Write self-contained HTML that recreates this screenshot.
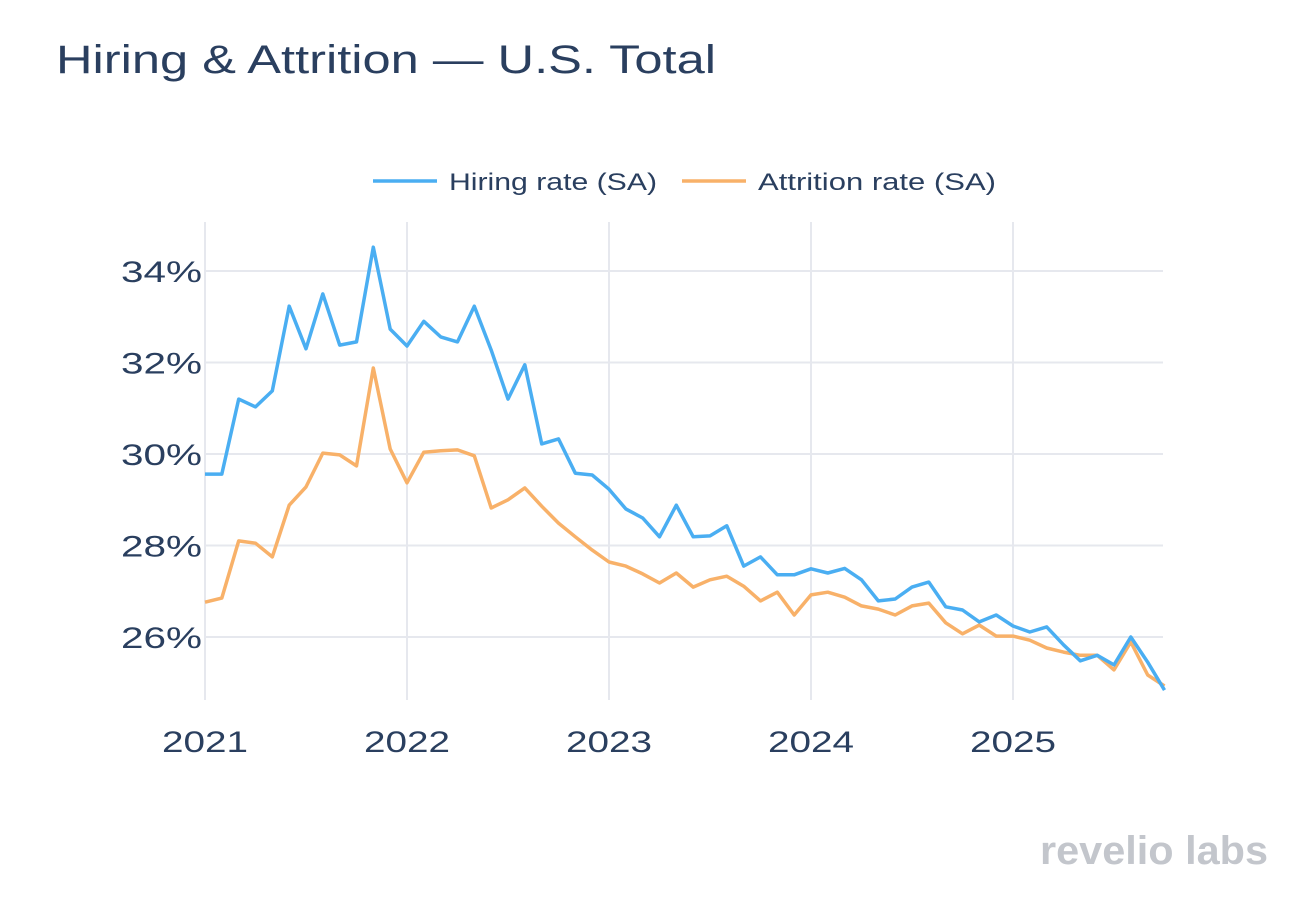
<!DOCTYPE html>
<html><head><meta charset="utf-8"><style>
body{margin:0;background:#fff;font-family:"Liberation Sans",sans-serif;}
svg{display:block}
</style></head><body>
<svg id="chart" width="1312" height="904">
<text x="56" y="73" font-size="40" fill="#2a3f5f" textLength="660" lengthAdjust="spacingAndGlyphs">Hiring &amp; Attrition — U.S. Total</text>
<g id="grid"></g><g id="series"></g><g id="axes"></g>
<g>
<g><line x1="373" y1="181" x2="437" y2="181" stroke="#4aaef2" stroke-width="3.5"/><text x="449" y="190" font-size="24" fill="#2a3f5f" textLength="208" lengthAdjust="spacingAndGlyphs">Hiring rate (SA)</text></g>
<g><line x1="682" y1="181" x2="746" y2="181" stroke="#f8b169" stroke-width="3.5"/><text x="758" y="190" font-size="24" fill="#2a3f5f" textLength="238" lengthAdjust="spacingAndGlyphs">Attrition rate (SA)</text></g>
</g>
<text x="1268" y="864" text-anchor="end" font-size="40" font-weight="bold" fill="#c3c6cc" textLength="228" lengthAdjust="spacingAndGlyphs">revelio labs</text>
</svg>
<script>
const hiring=[29.56,29.56,31.2,31.03,31.38,33.23,32.3,33.5,32.38,32.45,34.52,32.73,32.36,32.9,32.56,32.45,33.23,32.27,31.2,31.95,30.22,30.33,29.58,29.54,29.23,28.8,28.6,28.19,28.88,28.19,28.21,28.43,27.55,27.75,27.36,27.36,27.49,27.4,27.5,27.25,26.79,26.83,27.09,27.2,26.66,26.59,26.33,26.48,26.24,26.11,26.22,25.83,25.48,25.6,25.39,26.0,25.45,24.84];
const attrition=[26.76,26.85,28.1,28.05,27.75,28.88,29.28,30.02,29.98,29.74,31.88,30.11,29.37,30.04,30.07,30.09,29.96,28.82,29.0,29.26,28.86,28.49,28.19,27.9,27.64,27.55,27.38,27.18,27.4,27.09,27.25,27.33,27.11,26.79,26.98,26.48,26.92,26.98,26.87,26.68,26.61,26.48,26.68,26.74,26.31,26.07,26.26,26.02,26.02,25.93,25.76,25.67,25.6,25.6,25.28,25.89,25.17,24.93];
const yTicks=[26,28,30,32,34];
const xTickLabels=["2021","2022","2023","2024","2025"];
const NS="http://www.w3.org/2000/svg";
const X0=205,YEARPX=202;
function xm(i){return X0+i*YEARPX/12;}
function y(v){return 271+(34-v)*45.75;}
const grid=document.getElementById('grid'),axes=document.getElementById('axes'),ser=document.getElementById('series');
function mk(tag,at,parent){const e=document.createElementNS(NS,tag);for(const k in at)e.setAttribute(k,at[k]);parent.appendChild(e);return e;}
yTicks.forEach(t=>{
 const l=mk('line',{x1:205,x2:1163,y1:y(t),y2:y(t),stroke:'#e6e8ee','stroke-width':2},grid);
 
 
 const tx=mk('text',{x:202,y:y(t)+11,'text-anchor':'end','font-size':30,fill:'#2a3f5f',textLength:81,lengthAdjust:'spacingAndGlyphs'},axes);
 tx.textContent=t+'%';
 
 
});
xTickLabels.forEach((s,k)=>{
 const xx=xm(k*12);
 const l=mk('line',{x1:xx,x2:xx,y1:222,y2:700,stroke:'#e6e8ee','stroke-width':2},grid);
 
 
 const tx=mk('text',{x:xx,y:752,'text-anchor':'middle','font-size':30,fill:'#2a3f5f',textLength:86,lengthAdjust:'spacingAndGlyphs'},axes);
 tx.textContent=s;
 
 
});
function line(arr,color,name){
 const p=mk('polyline',{points:arr.map((v,i)=>xm(i).toFixed(1)+','+y(v).toFixed(1)).join(' '),fill:'none',stroke:color,'stroke-width':3.5,'stroke-linejoin':'round'},ser);
 
 
}
line(attrition,'#f8b169','attrition-line');
line(hiring,'#4aaef2','hiring-line');
</script>
</body></html>
